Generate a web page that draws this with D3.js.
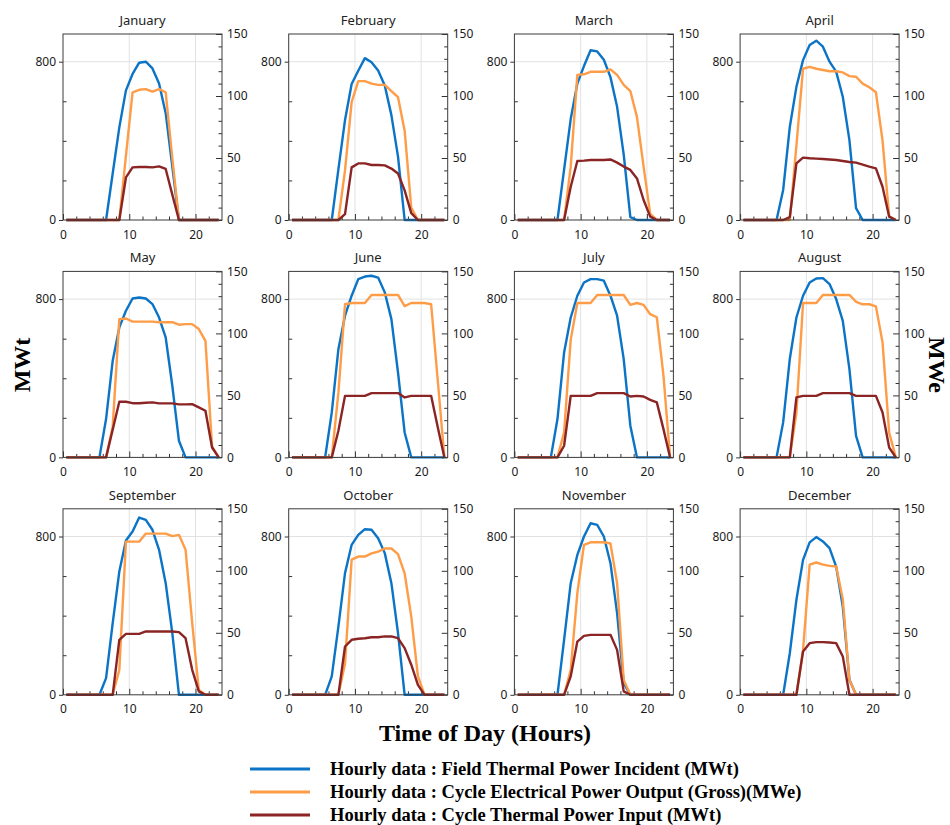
<!DOCTYPE html>
<html><head><meta charset="utf-8">
<script src="https://cdn.jsdelivr.net/npm/d3@7/dist/d3.min.js"></script>
<style>body{margin:0;background:#fff;} svg{display:block;}</style>
</head><body>
<svg id="chart" width="950" height="825"></svg>
<script>
// ---------- data ----------
const months = ["January","February","March","April","May","June","July","August","September","October","November","December"];
// hourly values are plotted at the middle of each hour
const hours = [0.5,1.5,2.5,3.5,4.5,5.5,6.5,7.5,8.5,9.5,10.5,11.5,12.5,13.5,14.5,15.5,16.5,17.5,18.5,19.5,20.5,21.5,22.5,23.5];

// Hourly data : Field Thermal Power Incident (MWt)
const fieldThermalIncident = [
  [0,0,0,0,0,0,0,235,468,655,738,795,800,766,690,540,270,0,0,0,0,0,0,0],
  [0,0,0,0,0,0,0,256,505,687,754,818,797,755,680,530,320,0,0,0,0,0,0,0],
  [0,0,0,0,0,0,0,255,510,690,778,858,852,810,722,572,330,15,0,0,0,0,0,0],
  [0,0,0,0,0,0,152,470,673,808,884,906,876,800,750,623,404,60,0,0,0,0,0,0],
  [0,0,0,0,0,0,194,488,657,741,803,808,803,775,707,606,362,84,0,0,0,0,0,0],
  [0,0,0,0,0,0,227,547,716,817,901,914,918,909,834,699,429,126,0,0,0,0,0,0],
  [0,0,0,0,0,0,194,530,707,817,884,901,901,893,817,716,497,160,0,0,0,0,0,0],
  [0,0,0,0,0,0,177,497,707,817,884,904,906,876,800,690,446,109,0,0,0,0,0,0],
  [0,0,0,0,0,0,84,362,623,780,825,896,884,834,733,564,312,0,0,0,0,0,0,0],
  [0,0,0,0,0,0,93,345,615,758,808,837,834,791,716,564,312,0,0,0,0,0,0,0],
  [0,0,0,0,0,0,0,278,564,707,800,867,859,800,665,413,59,0,0,0,0,0,0,0],
  [0,0,0,0,0,0,0,210,480,682,770,797,775,741,648,446,76,0,0,0,0,0,0,0]
];
// Hourly data : Cycle Electrical Power Output (Gross)(MWe)
const cycleElectricGross = [
  [0,0,0,0,0,0,0,0,0,52,103,105,105.5,103.5,105.5,103,50,0,0,0,0,0,0,0],
  [0,0,0,0,0,0,0,0,40,95,112,112,110,109,109,104,99,72,10,0,0,0,0,0],
  [0,0,0,0,0,0,0,0,43,117,117.5,119.5,119.5,119.5,121.5,117,109,104,83,43,5,0,0,0],
  [0,0,0,0,0,0,0,0,60,122,123.5,122,121,120,120,119,116,115.5,110,107,103,64,3,0],
  [0,0,0,0,0,0,0,25,111.5,112,109.5,109.5,109.5,109.5,109,109,109,107,107.5,107.5,103.5,94,9,0],
  [0,0,0,0,0,0,0,52,123.5,124.5,124.5,124.5,131,131,131,131,131,122,124.5,124.5,124.5,123.5,62,0],
  [0,0,0,0,0,0,0,20,95,124.5,124.5,124.5,131,131,131,131,131,123,124.5,123,115.5,113,66,0],
  [0,0,0,0,0,0,0,0,36,124.5,124.5,124.5,131,131,131,131,131,125.5,123.5,123.5,121.8,92.7,20,0],
  [0,0,0,0,0,0,0,0,20,123.5,123.5,123.5,130,130,130,130,128,129,117,58,4,0,0,0],
  [0,0,0,0,0,0,0,0,25,109,111.5,111.5,114,115.5,118,118,113.5,98,63,15,0,0,0,0],
  [0,0,0,0,0,0,0,0,20,82,121,123,123,123,122,90,12,0,0,0,0,0,0,0],
  [0,0,0,0,0,0,0,0,0,36,105,106.7,105,104,103.5,77,12,0,0,0,0,0,0,0]
];
// Hourly data : Cycle Thermal Power Input (MWt)
const cycleThermalInput = [
  [0,0,0,0,0,0,0,0,0,215,266,268,268,266,271,258,128,0,0,0,0,0,0,0],
  [0,0,0,0,0,0,0,0,30,266,286,286,278,278,276,260,235,150,35,0,0,0,0,0],
  [0,0,0,0,0,0,0,0,168,298,300,303,303,303,306,290,270,253,210,101,17,0,0,0],
  [0,0,0,0,0,0,0,15,286,315,312,310,308,306,303,298,293,290,280,270,261,168,17,0],
  [0,0,0,0,0,0,0,140,281,281,274,274,276,278,273,273,273,268,268,269,253,236,50,0],
  [0,0,0,0,0,0,0,135,311,311,311,311,325,325,325,325,325,303,311,311,311,311,152,0],
  [0,0,0,0,0,0,0,59,311,311,311,311,325,325,325,325,325,308,311,308,291,278,143,0],
  [0,0,0,0,0,0,0,0,303,311,311,311,325,325,325,325,325,311,311,311,311,227,50,0],
  [0,0,0,0,0,0,0,0,278,308,308,308,320,320,320,320,320,317,286,126,17,0,0,0],
  [0,0,0,0,0,0,0,0,244,278,283,286,291,291,295,295,286,236,152,50,0,0,0,0],
  [0,0,0,0,0,0,0,0,93,269,298,303,303,303,303,227,17,0,0,0,0,0,0,0],
  [0,0,0,0,0,0,0,0,0,219,261,266,266,264,261,194,0,0,0,0,0,0,0,0]
];

const xMajorTicks = [0,10,20];
const xMinorTicks = [2,4,6,8,12,14,16,18,22];
const leftMajorTicks = [0,800];
const leftMinorTicks = [200,400,600];
const rightMajorTicks = [0,50,100,150];
const rightMinorTicks = [10,20,30,40,60,70,80,90,110,120,130,140];

const seriesNames = [
  "Hourly data : Field Thermal Power Incident (MWt)",
  "Hourly data : Cycle Electrical Power Output (Gross)(MWe)",
  "Hourly data : Cycle Thermal Power Input (MWt)"
];
const seriesColors = ["#0b74c6", "#ff9c47", "#8b2424"];

// ---------- layout ----------
const svg = d3.select("#chart");
const W = 159, H = 186;
const colX = c => 63 + c * 225.7;
const rowY = r => 34 + r * 237.4;

const x = d3.scaleLinear().domain([0, 24]).range([0, W]);
const yL = d3.scaleLinear().domain([0, 940]).range([H, 0]);
const yR = d3.scaleLinear().domain([0, 150]).range([H, 0]);

const tickFont = "'Noto Sans', 'DejaVu Sans', sans-serif";
const serif = "'Liberation Serif', 'DejaVu Serif', serif";

function styleAxis(g) {
  g.select(".domain").remove();
  g.selectAll(".tick line").attr("stroke", "#333").attr("stroke-width", 1);
  g.selectAll(".tick text").attr("fill", "#1a1a1a").style("font-family", tickFont).style("font-size", "12px");
}

const seriesData = [fieldThermalIncident, cycleElectricGross, cycleThermalInput];
const seriesScale = [yL, yR, yL];

months.forEach((m, i) => {
  const c = i % 4, r = Math.floor(i / 4);
  const g = svg.append("g").attr("transform", `translate(${colX(c)},${rowY(r)})`);

  // grid
  g.selectAll(".vg").data([10, 20]).enter().append("line")
    .attr("x1", d => x(d)).attr("x2", d => x(d)).attr("y1", 0).attr("y2", H)
    .attr("stroke", "#e2e2e2").attr("stroke-width", 1);
  g.selectAll(".hg").data([800]).enter().append("line")
    .attr("x1", 0).attr("x2", W).attr("y1", d => yL(d)).attr("y2", d => yL(d))
    .attr("stroke", "#e2e2e2").attr("stroke-width", 1);

  // axes
  g.append("g").attr("transform", `translate(0,${H})`)
    .call(d3.axisBottom(x).tickValues(xMajorTicks).tickSizeInner(-6).tickSizeOuter(0).tickPadding(10).tickFormat(d3.format("d")))
    .call(styleAxis);
  g.append("g").attr("transform", `translate(0,${H})`)
    .call(d3.axisBottom(x).tickValues(xMinorTicks).tickSizeInner(-3.5).tickSizeOuter(0).tickFormat(""))
    .call(styleAxis);
  g.append("g")
    .call(d3.axisLeft(yL).tickValues(leftMajorTicks).tickSizeInner(4).tickSizeOuter(0).tickPadding(3).tickFormat(d3.format("d")))
    .call(styleAxis);
  g.append("g")
    .call(d3.axisLeft(yL).tickValues(leftMinorTicks).tickSizeInner(-3.5).tickSizeOuter(0).tickFormat(""))
    .call(styleAxis);
  g.append("g").attr("transform", `translate(${W},0)`)
    .call(d3.axisRight(yR).tickValues(rightMajorTicks).tickSizeInner(-6).tickSizeOuter(0).tickPadding(5).tickFormat(d3.format("d")))
    .call(styleAxis);
  g.append("g").attr("transform", `translate(${W},0)`)
    .call(d3.axisRight(yR).tickValues(rightMinorTicks).tickSizeInner(-3.5).tickSizeOuter(0).tickFormat(""))
    .call(styleAxis);

  // lines
  seriesData.forEach((sd, s) => {
    const ys = seriesScale[s];
    const line = d3.line().x((v, k) => x(hours[k])).y(v => ys(v));
    g.append("path").datum(sd[i])
      .attr("d", line)
      .attr("fill", "none")
      .attr("stroke", seriesColors[s])
      .attr("stroke-width", 2.4)
      .attr("stroke-linejoin", "round");
  });

  // frame
  g.append("rect").attr("x", 0).attr("y", 0).attr("width", W).attr("height", H)
    .attr("fill", "none").attr("stroke", "#3a3a3a").attr("stroke-width", 1);

  // title
  g.append("text").attr("x", W / 2).attr("y", -9).attr("text-anchor", "middle")
    .style("font-family", tickFont).style("font-size", "13px").attr("fill", "#222").text(m);
});

// axis titles
svg.append("text").attr("transform", "translate(22,365) rotate(-90)")
  .attr("text-anchor", "middle").attr("dominant-baseline", "central")
  .style("font-family", serif).style("font-weight", "bold").style("font-size", "24px").text("MWt");
svg.append("text").attr("transform", "translate(937,365) rotate(90)")
  .attr("text-anchor", "middle").attr("dominant-baseline", "central")
  .style("font-family", serif).style("font-weight", "bold").style("font-size", "24px").text("MWe");
svg.append("text").attr("x", 485).attr("y", 741).attr("text-anchor", "middle")
  .style("font-family", serif).style("font-weight", "bold").style("font-size", "24px").text("Time of Day (Hours)");

// legend
const legendY = [769, 792, 815];
seriesNames.forEach((n, s) => {
  svg.append("line").attr("x1", 250).attr("x2", 310).attr("y1", legendY[s]).attr("y2", legendY[s])
    .attr("stroke", seriesColors[s]).attr("stroke-width", 3);
  svg.append("text").attr("x", 330).attr("y", legendY[s] + 6)
    .style("font-family", serif).style("font-weight", "bold").style("font-size", "18.5px").text(n);
});
</script>
</body></html>
